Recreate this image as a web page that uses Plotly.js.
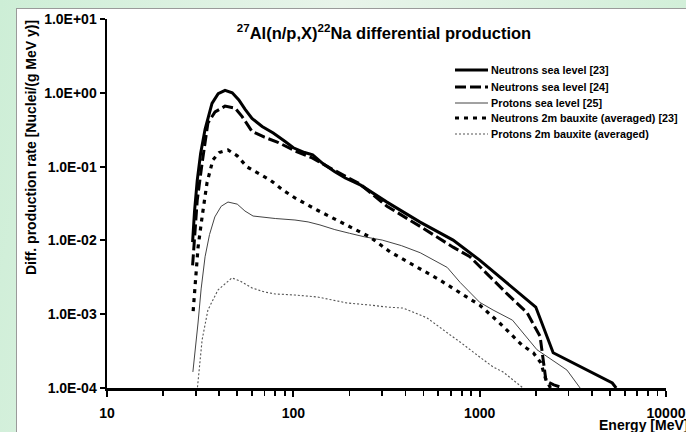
<!DOCTYPE html>
<html>
<head>
<meta charset="utf-8">
<script src="https://cdn.plot.ly/plotly-3.0.1.min.js"></script>
<style>
  html, body { margin: 0; padding: 0; }
  #wrap { position: relative; width: 686px; height: 432px; overflow: hidden;
          background: linear-gradient(100deg, #cdeed6 0%, #e8f4ea 45%, #cdeed5 100%); }
  #panel { position: absolute; left: 16px; top: 8px; right: 0; bottom: 0; background: #ffffff;
           border-left: 1px solid #9a9a9a; border-top: 1px solid #9a9a9a; }
  #chart { position: absolute; left: 0; top: 0; width: 686px; height: 432px; }
</style>
</head>
<body>
<div id="wrap"><div id="panel"></div><div id="chart"></div></div>
<script>
// ---- data (Energy in MeV, differential production rate in Nuclei/(g MeV y)) ----
const E_nSea23 = [28.8, 29.5, 30.5, 31.8, 33.6, 36.6, 39.5, 43, 47, 51, 55, 60, 68, 78, 90, 100, 115, 127, 144, 167, 190, 230, 318, 479, 720, 1000, 2000, 2480, 5150, 5400];
const V_nSea23 = [0.0095, 0.025, 0.065, 0.15, 0.32, 0.72, 0.97, 1.08, 1.0, 0.8, 0.6, 0.45, 0.35, 0.285, 0.22, 0.18, 0.155, 0.144, 0.11, 0.085, 0.07, 0.056, 0.033, 0.0177, 0.0101, 0.0054, 0.00125, 0.0003, 0.000117, 0.0001];

const E_nSea24 = [28.8, 29.5, 30.5, 32.4, 34.8, 38, 43, 48.7, 53, 60, 70, 82, 104, 127, 157, 228, 318, 479, 720, 887, 1070, 1400, 1800, 2110, 2270, 2500, 2800];
const V_nSea24 = [0.0046, 0.012, 0.035, 0.112, 0.39, 0.55, 0.66, 0.62, 0.48, 0.3, 0.25, 0.215, 0.16, 0.13, 0.096, 0.058, 0.029, 0.0155, 0.0081, 0.006, 0.0037, 0.0019, 0.00104, 0.0005, 0.000124, 0.00011, 0.0001];

const E_pSea25 = [28.9, 30, 30.8, 32, 33.6, 35.5, 37.9, 41, 44.6, 50, 55, 60.8, 70, 80, 102, 120, 139, 167, 200, 240, 300, 380, 480, 580, 670, 785, 900, 1000, 1180, 1500, 2030, 2940, 3460];
const V_pSea25 = [0.000165, 0.00038, 0.00076, 0.0022, 0.006, 0.012, 0.0208, 0.029, 0.0331, 0.031, 0.025, 0.0214, 0.0205, 0.0198, 0.0189, 0.0178, 0.0162, 0.014, 0.0125, 0.0112, 0.0101, 0.0085, 0.0068, 0.0053, 0.0043, 0.0027, 0.0019, 0.00145, 0.00114, 0.00083, 0.00033, 0.000175, 0.0001];

const E_nBaux = [29, 29.8, 30.8, 32.4, 34.4, 37, 40, 44.6, 50, 56.4, 65, 75, 88, 102, 134, 185, 258, 330, 461, 612, 855, 1000, 1280, 1690, 1940, 2130, 2250, 2400];
const V_nBaux = [0.0011, 0.003, 0.008, 0.021, 0.06, 0.123, 0.155, 0.168, 0.14, 0.099, 0.08, 0.066, 0.048, 0.0376, 0.0258, 0.0172, 0.0111, 0.007, 0.0044, 0.0029, 0.0017, 0.00133, 0.00076, 0.00038, 0.0003, 0.00022, 0.000137, 0.0001];

const E_pBaux = [30.3, 30.8, 32.4, 34.8, 39.4, 46.8, 52, 60, 70, 80, 102, 135, 161, 194, 258, 318, 390, 522, 720, 785, 1000, 1180, 1335, 1660, 1800];
const V_pBaux = [0.00008, 0.000117, 0.00045, 0.00114, 0.00213, 0.0031, 0.0028, 0.00227, 0.002, 0.00188, 0.00182, 0.00171, 0.00156, 0.00142, 0.00133, 0.00125, 0.00121, 0.00089, 0.00049, 0.00042, 0.000263, 0.000193, 0.000165, 0.000105, 0.00009];

const seriesNames = ["Neutrons sea level [23]", "Neutrons sea level [24]", "Protons sea level [25]",
                     "Neutrons 2m bauxite (averaged) [23]", "Protons 2m bauxite (averaged)"];
const xTickVals = [10, 100, 1000, 10000];
const xTickText = ["10", "100", "1000", "10000"];
const yTickVals = [10, 1, 0.1, 0.01, 0.001, 0.0001];
const yTickText = ["1.0E+01", "1.0E+00", "1.0E-01", "1.0E-02", "1.0E-03", "1.0E-04"];

// ---- styles ----
const styles = [
  {color: "#000000", width: 3, dash: "solid"},
  {color: "#000000", width: 3, dash: "11px,4px"},
  {color: "#444444", width: 1, dash: "solid"},
  {color: "#000000", width: 3.2, dash: "4px,5px"},
  {color: "#555555", width: 1.1, dash: "2px,2px"}
];
const xs = [E_nSea23, E_nSea24, E_pSea25, E_nBaux, E_pBaux];
const ys = [V_nSea23, V_nSea24, V_pSea25, V_nBaux, V_pBaux];

const traces = xs.map((x, i) => ({
  x: x, y: ys[i], type: "scatter", mode: "lines", name: seriesNames[i],
  line: {color: styles[i].color, width: styles[i].width, dash: styles[i].dash},
  showlegend: false, hoverinfo: "skip"
}));

// pixel -> paper helpers (plot area: x 107..666, y 19..388)
const L = 107, R = 666, T = 19, B = 388;
const px = p => (p - L) / (R - L);
const py = p => (B - p) / (B - T);

const FONT = "Liberation Sans, Arial, Helvetica, sans-serif";
const shapes = [];
const annotations = [];
const legY = [70, 87, 103, 118, 134];
seriesNames.forEach((n, i) => {
  shapes.push({type: "line", xref: "paper", yref: "paper",
    x0: px(455), x1: px(488), y0: py(legY[i]), y1: py(legY[i]),
    line: {color: styles[i].color, width: styles[i].width, dash: styles[i].dash}});
  annotations.push({xref: "paper", yref: "paper", x: px(489), y: py(legY[i]),
    xanchor: "left", yanchor: "middle", showarrow: false, text: n,
    font: {family: FONT, size: 10.8, color: "#000", weight: "bold"}});
});
annotations.push({xref: "paper", yref: "paper", x: px(31), y: py(148), textangle: -90,
  xanchor: "center", yanchor: "middle", showarrow: false,
  text: "Diff. production rate [Nuclei/(g MeV y)]",
  font: {family: FONT, size: 14, color: "#000", weight: "bold"}});
annotations.push({xref: "paper", yref: "paper", x: px(597), y: py(425),
  xanchor: "left", yanchor: "middle", showarrow: false, text: "Energy [MeV]",
  font: {family: FONT, size: 14, color: "#000", weight: "bold"}});

const minorVals = [];
[10, 100, 1000].forEach(d => { for (let k = 2; k <= 9; k++) minorVals.push(k * d); });

const layout = {
  width: 686, height: 432,
  margin: {l: L, r: 686 - R, t: T, b: 432 - B, pad: 0},
  paper_bgcolor: "rgba(0,0,0,0)", plot_bgcolor: "rgba(0,0,0,0)",
  font: {family: FONT, color: "#000"},
  title: {text: "<sup>27</sup>Al(n/p,X)<sup>22</sup>Na differential production",
          x: 384 / 686, xref: "container", xanchor: "center",
          y: 1 - 33 / 432, yref: "container", yanchor: "middle",
          font: {family: FONT, size: 16.5, color: "#000", weight: "bold"}},
  xaxis: {type: "log", range: [1, 4], showgrid: false, zeroline: false,
          showline: true, linecolor: "#000", linewidth: 2.5,
          ticks: "outside", ticklen: 6, tickwidth: 2, tickcolor: "#000",
          tickmode: "array", tickvals: xTickVals, ticktext: xTickText,
          ticklabelstandoff: 5,
          tickfont: {family: FONT, size: 14, color: "#000", weight: "bold"},
          minor: {tickmode: "array", tickvals: minorVals, ticks: "outside", ticklen: 5,
                  tickwidth: 1.8, tickcolor: "#000", showgrid: false}},
  yaxis: {type: "log", range: [-4, 1], showgrid: false, zeroline: false,
          showline: true, linecolor: "#000", linewidth: 2.5,
          ticks: "outside", ticklen: 5, tickwidth: 2, tickcolor: "#000",
          tickmode: "array", tickvals: yTickVals, ticktext: yTickText,
          tickfont: {family: FONT, size: 14, color: "#000", weight: "bold"}},
  showlegend: false,
  shapes: shapes,
  annotations: annotations
};

Plotly.newPlot("chart", traces, layout, {staticPlot: true, displayModeBar: false});
</script>
</body>
</html>
